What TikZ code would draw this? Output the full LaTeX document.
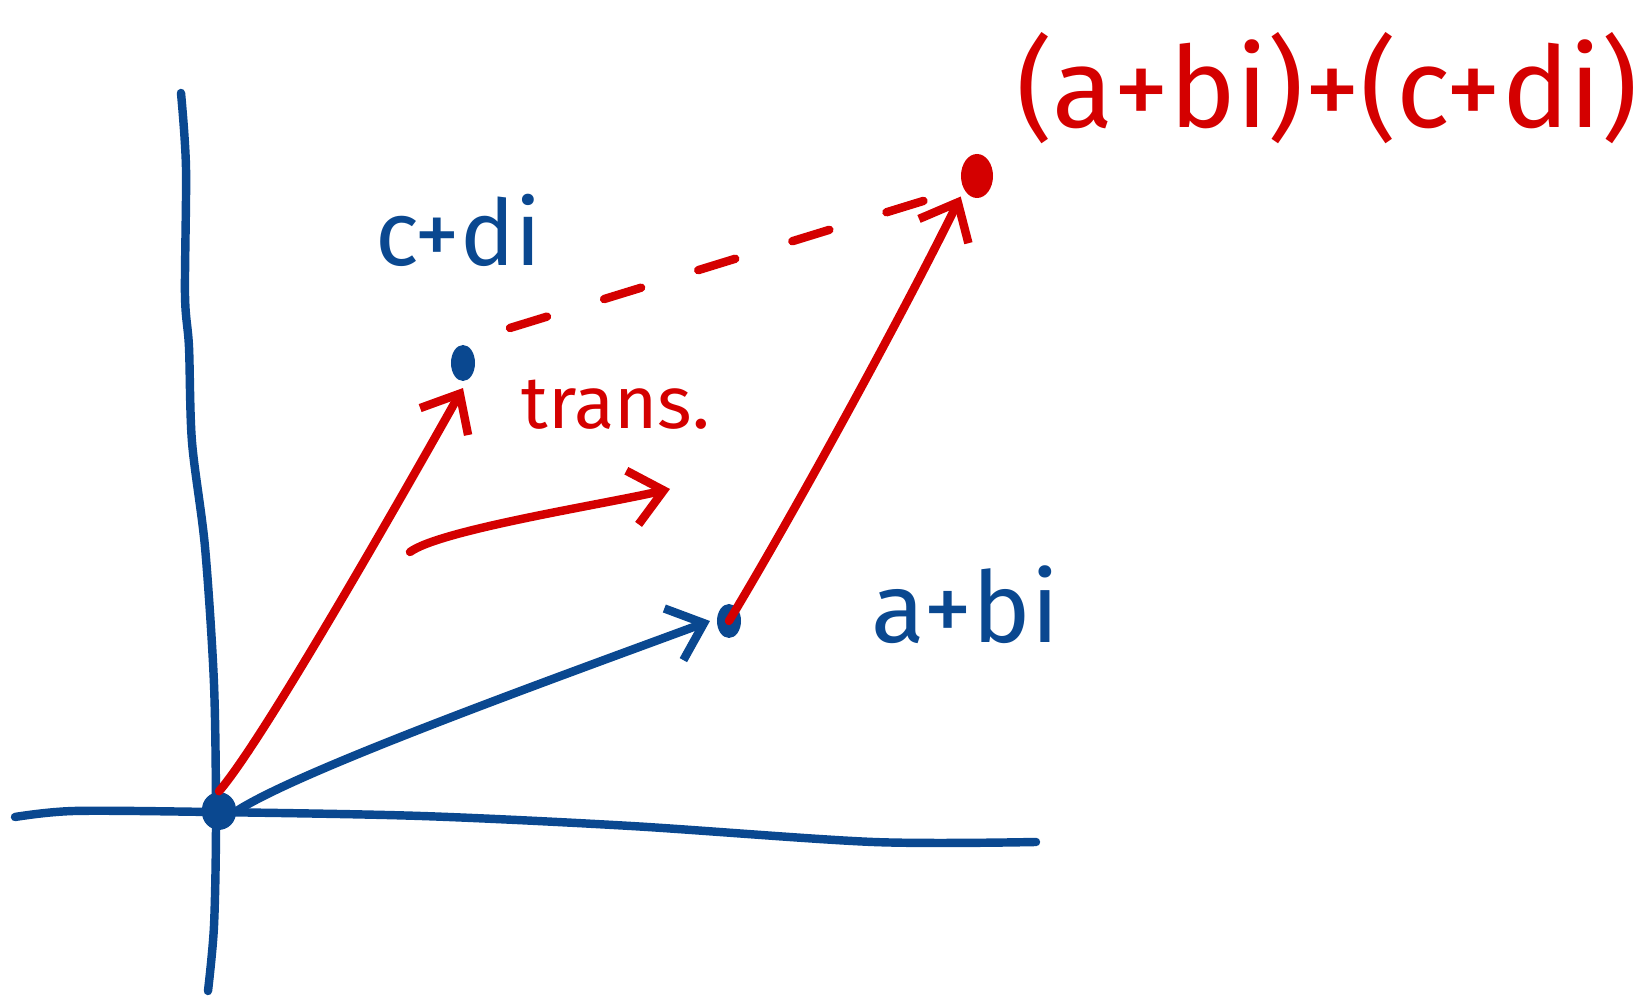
\documentclass[tikz,border=0pt]{standalone}
\usepackage{fontspec}
\setmainfont{Fira Sans}
\usetikzlibrary{arrows.meta,calc,shapes.geometric}
\definecolor{penblue}{HTML}{0A4890}
\definecolor{penred}{HTML}{D40000}

\begin{document}
\begin{tikzpicture}[x=0.01cm,y=-0.01cm,>={Straight Barb[length=3.2mm,width=5.5mm]},
    line cap=round,line join=round,
    bluepen/.style={penblue,line width=2.4pt},
    redpen/.style={penred,line width=2.4pt},
    dot/.style={ellipse,fill=#1,inner sep=0pt,minimum width=0.24cm,minimum height=0.34cm,outer sep=2pt},
    lbl/.style={text=#1,font=\fontsize{26}{28}\selectfont,inner sep=0pt}]
  \useasboundingbox (0,0) rectangle (1650,998);

  % --- axes ---
  \draw[bluepen] plot[smooth] coordinates {(181,93) (186,168) (185,295) (189,347) (192,442)
        (205,547) (214,684) (216,821) (214,926) (208,991)};
  \draw[bluepen] plot[smooth] coordinates {(15,817) (74,811) (210,812) (421,816) (631,826)
        (873,842) (1036,842)};

  % --- points ---
  \node[fill=penblue,rounded corners=5pt,inner sep=0pt,minimum width=0.34cm,minimum height=0.38cm] (O) at (219,811) {};
  \node[dot=penblue] (A) at (729,621) {};
  \node[dot=penblue,minimum height=0.36cm] (C) at (463,363) {};
  \node[dot=penred,minimum width=0.32cm,minimum height=0.44cm] (S) at (977,176) {};

  % --- vectors ---
  \draw[bluepen,->] (O.east) .. controls (300,770) and (550,680) .. (A.west);
  \draw[redpen,->] (O.north) .. controls (262,742) and (400,500) .. (C.south);
  \draw[redpen,->] (A.center) .. controls (790,520) and (900,320) .. (S.south west);
  \draw[redpen,dash pattern=on 11pt off 17pt] ($(C)+(47,-35)$) -- ($(S)+(-18,14)$);

  % --- translation ---
  \coordinate (t0) at (410,552);
  \coordinate (t1) at (670,489);
  \draw[redpen,->] (t0) .. controls (440,530) and (600,505) .. (t1);

  % --- labels ---
  \node[lbl=penblue] (lc) at (458,230) {c+di};
  \node[lbl=penblue,font=\fontsize{28}{30}\selectfont] (la) at (965,605) {a+bi};
  \node[lbl=penred,font=\fontsize{21}{24}\selectfont] (lt) at (616,405) {trans.};
  \node[lbl=penred,font=\fontsize{32}{36}\selectfont] (ls) at (1327,88) {(a+bi)+(c+di)};
\end{tikzpicture}
\end{document}
